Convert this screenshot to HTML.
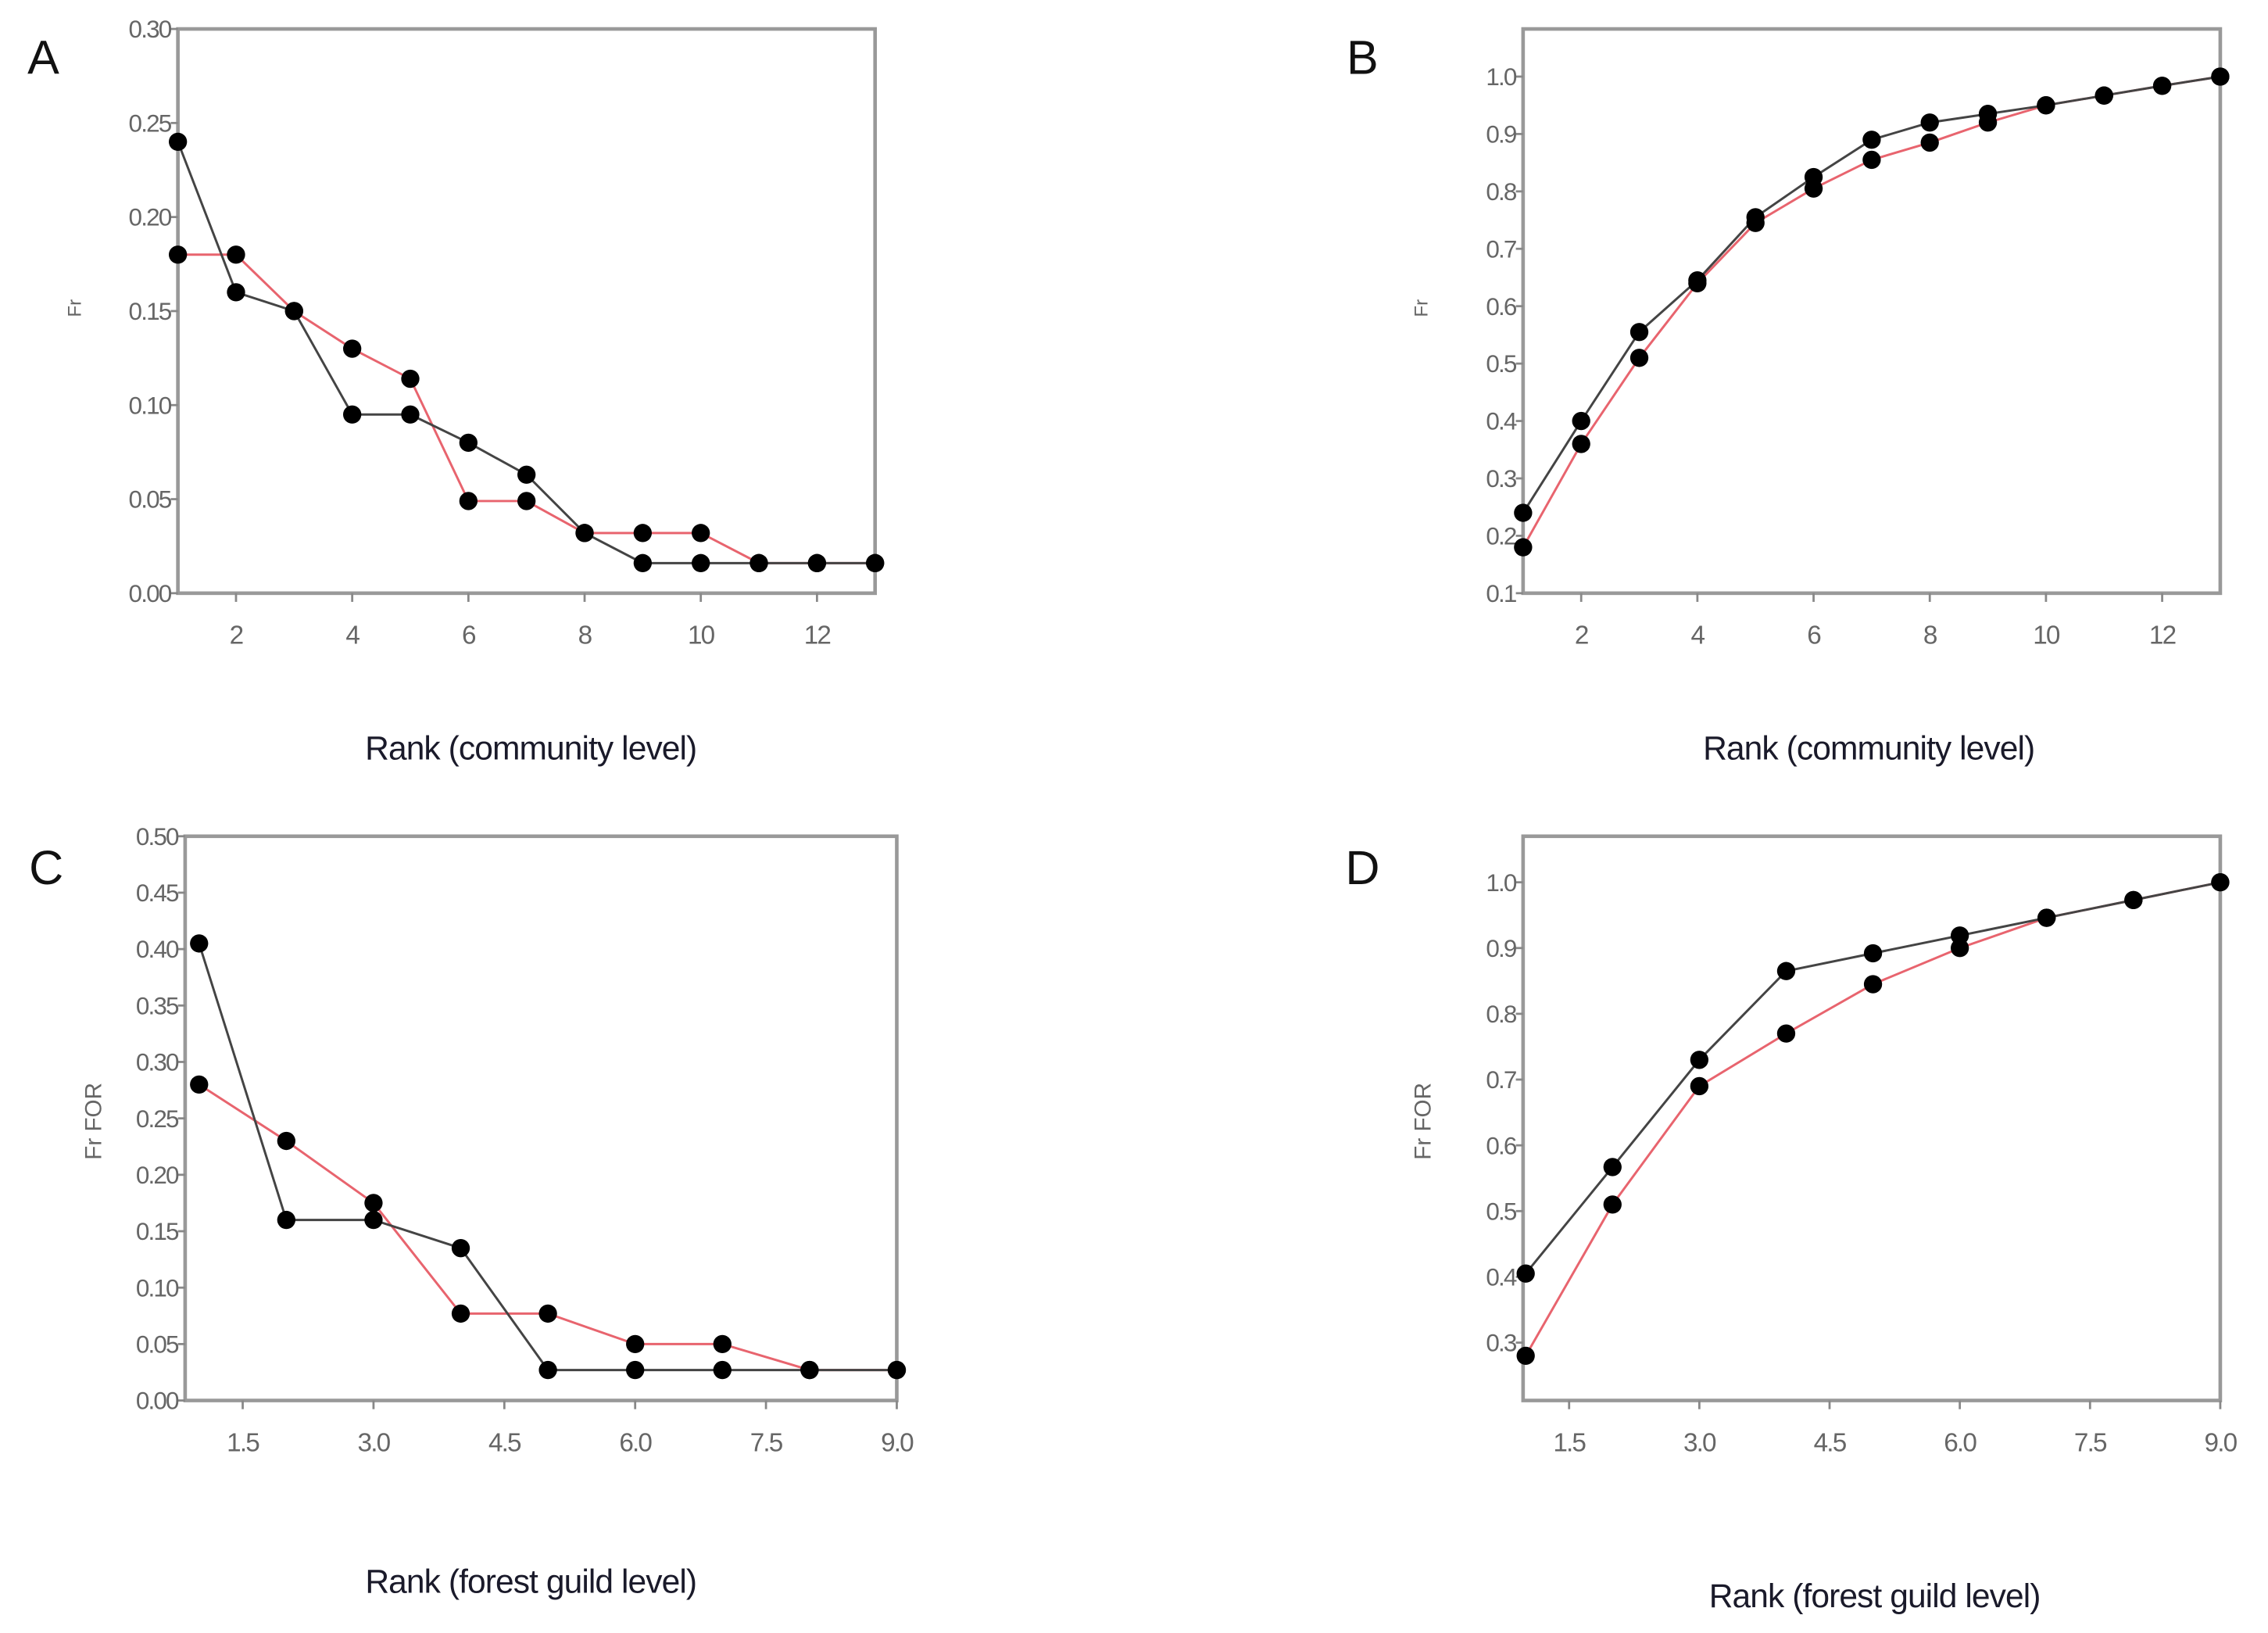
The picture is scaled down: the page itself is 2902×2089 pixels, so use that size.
<!DOCTYPE html>
<html><head><meta charset="utf-8"><style>
html,body{margin:0;padding:0;background:#fff;}
svg{display:block;}
text{font-family:"Liberation Sans",sans-serif;}
</style></head>
<body>
<svg id="fig" width="2902" height="2089" viewBox="0 0 1568 1128.7" xmlns="http://www.w3.org/2000/svg"></svg>
<script>
const ranksA = [1,2,3,4,5,6,7,8,9,10,11,12,13];
const blackA = [0.24,0.16,0.15,0.095,0.095,0.08,0.063,0.032,0.016,0.016,0.016,0.016,0.016];
const redA = [0.18,0.18,0.15,0.13,0.114,0.049,0.049,0.032,0.032,0.032,0.016,0.016,0.016];
const blackB = [0.24,0.40,0.555,0.645,0.755,0.825,0.89,0.92,0.935,0.95,0.967,0.984,1.0];
const redB = [0.18,0.36,0.51,0.64,0.745,0.805,0.855,0.885,0.92,0.95,0.967,0.984,1.0];
const ranksC = [1,2,3,4,5,6,7,8,9];
const blackC = [0.405,0.16,0.16,0.135,0.027,0.027,0.027,0.027,0.027];
const redC = [0.28,0.23,0.175,0.077,0.077,0.05,0.05,0.027,0.027];
const blackD = [0.405,0.567,0.73,0.865,0.892,0.919,0.946,0.973,1.0];
const redD = [0.28,0.51,0.69,0.77,0.845,0.9,0.946,0.973,1.0];
const yTicksA = ["0.00","0.05","0.10","0.15","0.20","0.25","0.30"];
const yTicksB = ["0.1","0.2","0.3","0.4","0.5","0.6","0.7","0.8","0.9","1.0"];
const yTicksC = ["0.00","0.05","0.10","0.15","0.20","0.25","0.30","0.35","0.40","0.45","0.50"];
const yTicksD = ["0.3","0.4","0.5","0.6","0.7","0.8","0.9","1.0"];
const xTicksAB = ["2","4","6","8","10","12"];
const xTicksCD = ["1.5","3.0","4.5","6.0","7.5","9.0"];

const NS = "http://www.w3.org/2000/svg";
const svg = document.getElementById('fig');
function mk(tag, attrs, parent){const e=document.createElementNS(NS,tag);for(const k in attrs)e.setAttribute(k,attrs[k]);(parent||svg).appendChild(e);return e;}

const panels = [
 {id:'a',letter:'A',lx:30,ly:51,L:123,R:605,T:20,B:410,xmin:1,xmax:13,ymin:0,ymax:0.30,yt:yTicksA,xt:xTicksAB,xs:ranksA,k:blackA,r:redA,ylab:'Fr',ylx:56,yly:213,xlab:'Rank (community level)',xlx:367,xly:525},
 {id:'b',letter:'B',lx:942,ly:51,L:1053,R:1535,T:20,B:410,xmin:1,xmax:13,ymin:0.1,ymax:1.083,yt:yTicksB,xt:xTicksAB,xs:ranksA,k:blackB,r:redB,ylab:'Fr',ylx:987,yly:213,xlab:'Rank (community level)',xlx:1292,xly:525},
 {id:'c',letter:'C',lx:32,ly:611,L:128,R:620,T:578,B:968,xmin:0.84,xmax:9,ymin:0,ymax:0.50,yt:yTicksC,xt:xTicksCD,xs:ranksC,k:blackC,r:redC,ylab:'Fr FOR',ylx:70,yly:775,xlab:'Rank (forest guild level)',xlx:367,xly:1101},
 {id:'d',letter:'D',lx:942,ly:611,L:1053,R:1535,T:578,B:968,xmin:0.97,xmax:9,ymin:0.212,ymax:1.07,yt:yTicksD,xt:xTicksCD,xs:ranksC,k:blackD,r:redD,ylab:'Fr FOR',ylx:989,yly:775,xlab:'Rank (forest guild level)',xlx:1296,xly:1111}
];

panels.forEach(p=>{
  const g = mk('g',{});
  
  
  const X = v => p.L + (v-p.xmin)/(p.xmax-p.xmin)*(p.R-p.L);
  const Y = v => p.B - (v-p.ymin)/(p.ymax-p.ymin)*(p.B-p.T);
  const lt = mk('text',{x:p.lx,y:p.ly,'font-size':33,fill:'#111','text-anchor':'middle'},g);
  lt.textContent=p.letter;
  
  
  const fr = mk('rect',{x:p.L,y:p.T,width:p.R-p.L,height:p.B-p.T,fill:'none',stroke:'#999','stroke-width':2.5},g);
  
  
  p.yt.forEach(t=>{
    const y=Y(parseFloat(t));
    mk('line',{x1:p.L-5,x2:p.L,y1:y,y2:y,stroke:'#888','stroke-width':1.5},g);
    const tx=mk('text',{x:p.L-5,y:y+6,'font-size':17,fill:'#666','text-anchor':'end','letter-spacing':'-1'},g);
    tx.textContent=t;
    
    
  });
  p.xt.forEach(t=>{
    const x=X(parseFloat(t));
    mk('line',{x1:x,x2:x,y1:p.B,y2:p.B+6,stroke:'#888','stroke-width':1.5},g);
    const tx=mk('text',{x:x,y:p.B+35,'font-size':18,fill:'#666','text-anchor':'middle','letter-spacing':'-1'},g);
    tx.textContent=t;
    
    
  });
  const yl=mk('text',{x:p.ylx,y:p.yly,'font-size':p.ylab.length>2?16:13,fill:'#666','text-anchor':'middle',transform:`rotate(-90 ${p.ylx} ${p.yly})`},g);
  yl.textContent=p.ylab;
  
  
  const xl=mk('text',{x:p.xlx,y:p.xly,'font-size':23,fill:'#1a1a2a','text-anchor':'middle','letter-spacing':'-0.5'},g);
  xl.textContent=p.xlab;
  
  
  [['red',p.r,'#e8646e'],['black',p.k,'#444']].forEach(([nm,vals,col])=>{
    const pts=vals.map((v,i)=>X(p.xs[i])+','+Y(v)).join(' ');
    const pl=mk('polyline',{points:pts,fill:'none',stroke:col,'stroke-width':1.6},g);
    
    
  });
  [['red',p.r],['black',p.k]].forEach(([nm,vals])=>{
    vals.forEach((v,i)=>{
      const c=mk('circle',{cx:X(p.xs[i]),cy:Y(v),r:6.3,fill:'#000'},g);
      
      
    });
  });
});
</script>
</body></html>
